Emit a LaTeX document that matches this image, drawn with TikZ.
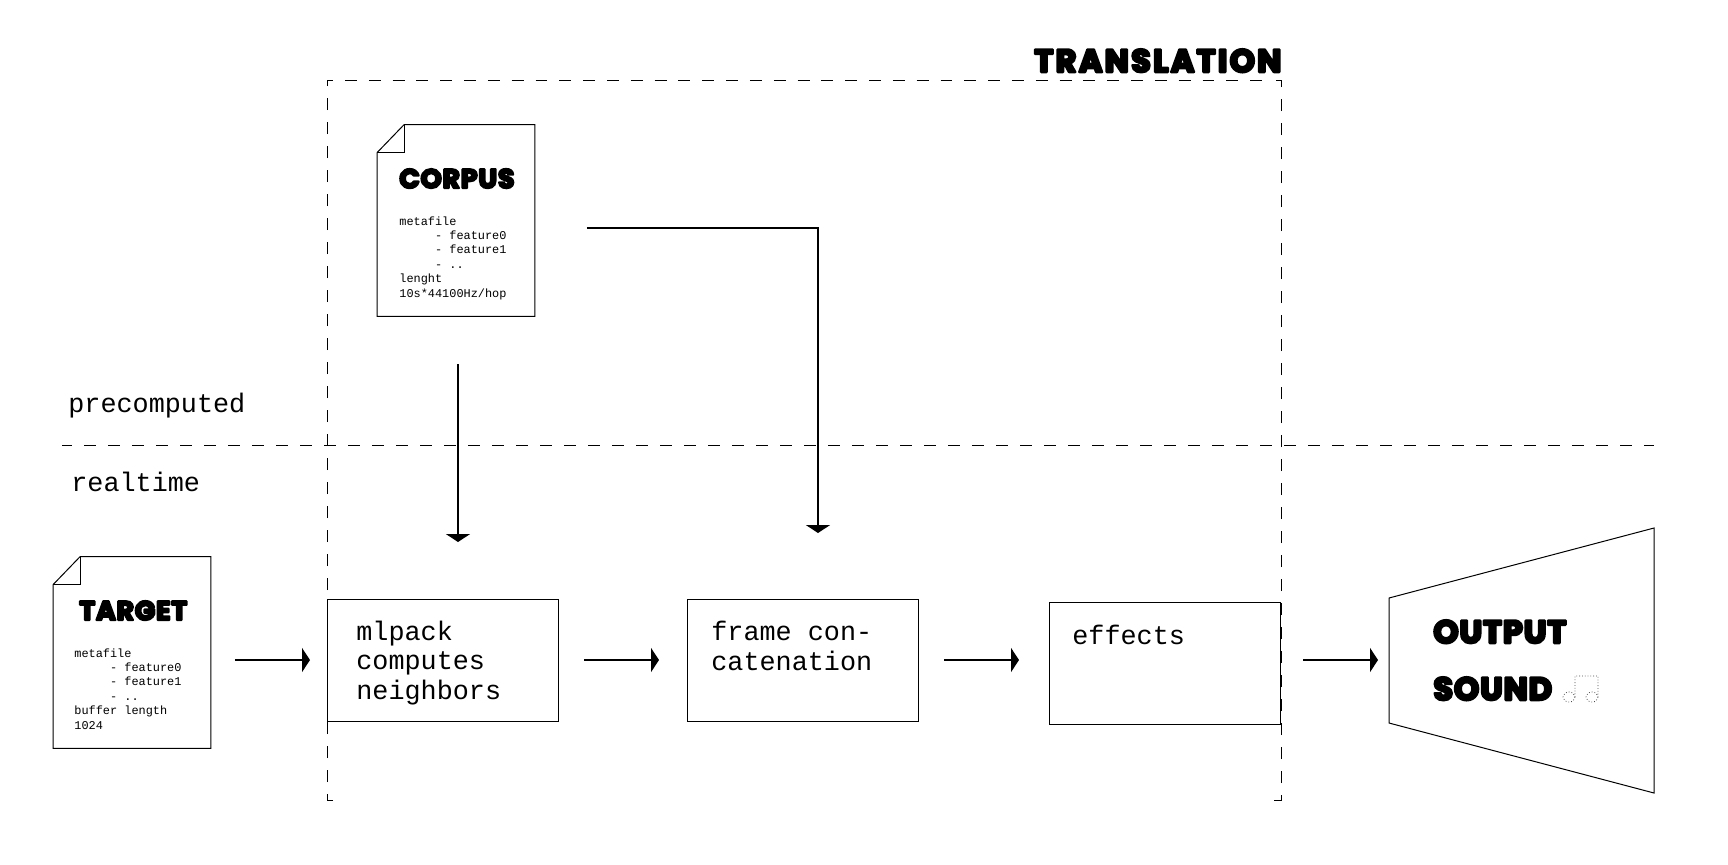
\documentclass[tikz,border=0pt]{standalone}
\usepackage{fontspec}
\setmonofont{Liberation Mono}
\newfontfamily\bubblefont[UprightFont=* Bold,FakeBold=8,LetterSpace=3]{Poppins}
\usetikzlibrary{arrows.meta,positioning}
\tikzset{
	stage/.style={draw, line width=0.5pt, minimum width=115.5pt, minimum height=61pt, inner sep=0pt},
	page/.style={minimum width=78.5pt, minimum height=95.5pt, inner sep=0pt},
	zone/.style={line width=0.5pt, dash pattern=on 6pt off 6pt},
	zoneflat/.style={line width=0.5pt, dash pattern=on 5.955pt off 5.955pt},
	flow/.style={->, line width=0.9pt},
	bigtext/.style={anchor=base west, inner sep=0pt, align=left, font=\ttfamily\fontsize{13.4pt}{14.6pt}\selectfont},
	metatext/.style={anchor=base west, inner sep=0pt, align=left, font=\ttfamily\fontsize{5.95pt}{7.2pt}\selectfont},
	bigtitle/.style={anchor=base west, inner sep=0pt, align=left, line join=round, font=\bubblefont\fontsize{16pt}{28.5pt}\selectfont},
	smalltitle/.style={anchor=base west, inner sep=0pt, line join=round, font=\bubblefont\fontsize{13.4pt}{15pt}\selectfont}
}
\newcommand{\metaindent}{\hspace*{3em}}
\begin{document}
\begin{tikzpicture}[x=0.5pt, y=-0.5pt, >={Triangle[length=4pt,width=12pt]}, node distance=180pt]
	\useasboundingbox (0,0) rectangle (1728,864);
	\fill [white] (0,0) rectangle (1728,864);

	% Zones
	\draw [zone] (333,800) -- (327,800) -- (327,80) -- (333,80);
	\draw [zone] (1274,800) -- (1281,800) -- (1281,80) -- (1274,80);
	\draw [zoneflat] (345,80) -- (1263,80);
	\draw [zone, dash phase=1pt] (62,445) -- (1654,445);
	\node [bigtitle, font=\bubblefont\addfontfeature{LetterSpace=7.3}\fontsize{16pt}{28.5pt}\selectfont] (translation) at (1034,72) {TRANSLATION};
	\node [bigtext] (precomputed) at (68,412.5) {precomputed};
	\node [bigtext] (realtime) at (71,491.5) {realtime};

	% Pages {corpus, target}
	\node [page] (corpus) at (456,220.5) {};
	\node [page] (target) at (132,652.5) {};
	\foreach \sheet in {corpus, target} {
		\draw [line width=0.5pt] ([xshift=13.5pt]\sheet.north west) -- (\sheet.north east) -- (\sheet.south east)
			-- (\sheet.south west) -- ([yshift=-14pt]\sheet.north west) -- cycle;
		\draw [line width=0.5pt] ([xshift=13.5pt]\sheet.north west) -- ([xshift=13.5pt,yshift=-14pt]\sheet.north west)
			-- ([yshift=-14pt]\sheet.north west);
	}
	\node [smalltitle] (corpustitle) at (399,188) {CORPUS};
	\node [metatext] (corpusmeta) at (399,297) {metafile\\ \metaindent - feature0\\ \metaindent - feature1\\ \metaindent - ..\\ lenght\\ 10s*44100Hz/hop};
	\node [smalltitle] (targettitle) at (79,620) {TARGET};
	\node [metatext] (targetmeta) at (74,729) {metafile\\ \metaindent - feature0\\ \metaindent - feature1\\ \metaindent - ..\\ buffer length\\ 1024};

	% Stages {mlpack, frame, effects}
	\node [stage] (mlpack) at (443,660) {};
	\node [stage] (frame) [right of=mlpack] {};
	\node [stage] (effects) [right of=frame, xshift=1pt, yshift=-1.5pt] {};
	\node [bigtext] (mlpacktext) at (356,699) {mlpack\\computes\\neighbors};
	\node [bigtext] (frametext) at (711,670) {frame con-\\catenation};
	\node [bigtext] (effectstext) at (1072,644.5) {effects};

	% Output
	\coordinate (speaker) at (1389,660);
	\draw [line width=0.5pt] (1389,598) -- (1654,528) -- (1654,793) -- (1389,723) -- cycle;
	\node [bigtitle] (outputtext) at (1433,700) {OUTPUT\\SOUND};
	\draw [line width=0.4pt, densely dotted, black!70] (1575,697) -- (1575,676) -- (1598,676) -- (1598,697)
		(1569,697) ellipse [x radius=6, y radius=5] (1592,697) ellipse [x radius=6, y radius=5];

	% Paths
	\coordinate (knnin) at (458,542);
	\coordinate (concatin) at (818,533);
	\draw [flow, shorten <=12pt, shorten >=8.5pt] (target.east |- mlpack) -- (mlpack);
	\draw [flow, shorten <=12.5pt, shorten >=14pt] (mlpack) -- (frame);
	\draw [flow, shorten <=12.5pt, shorten >=15pt] (frame) -- (effects.west |- frame);
	\draw [flow, shorten <=11pt, shorten >=5.5pt] (effects.east |- frame) -- (speaker);
	\draw [flow, shorten <=24pt] ([xshift=1pt]corpus.south) -- (knnin);
	\draw [flow, shorten <=26pt] ([yshift=-3.75pt]corpus.east) -| (concatin);
\end{tikzpicture}
\end{document}
